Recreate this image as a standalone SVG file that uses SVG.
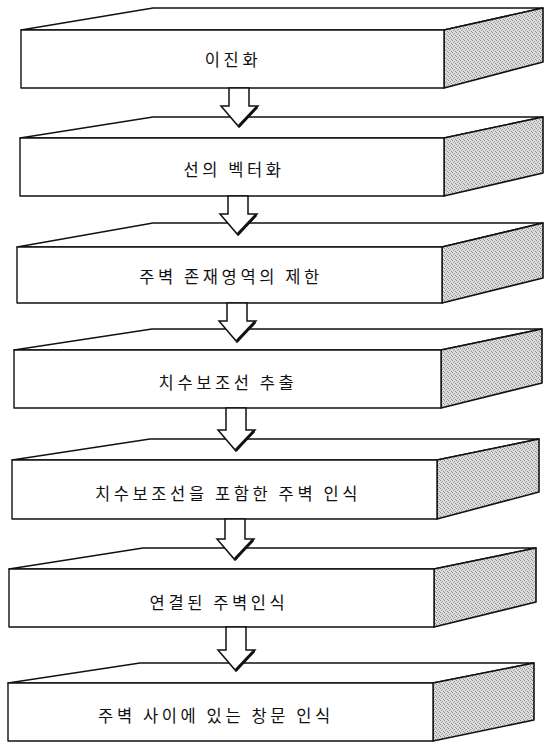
<svg xmlns="http://www.w3.org/2000/svg" width="544" height="743" viewBox="0 0 544 743">
<style>
.face{fill:#fff;stroke:#111;stroke-width:1.4;stroke-linejoin:round}
.side{fill:url(#dots);stroke:#111;stroke-width:1.6;stroke-linejoin:round}
.lbl{font-family:"Noto Sans CJK KR","Noto Sans",sans-serif;font-size:16.5px;fill:#111;text-anchor:middle;dominant-baseline:central;letter-spacing:3.6px}
.arr{fill:#fff;stroke:#111;stroke-width:1.5;stroke-linejoin:miter}
.arrs{fill:none;stroke:#111;stroke-width:3}
</style>
<defs>
<pattern id="dots" width="4" height="4" patternUnits="userSpaceOnUse">
<rect width="4" height="4" fill="#dcdcdc"/>
<rect x="0" y="0" width="1" height="1" fill="#8a8a8a"/>
<rect x="2" y="1" width="1" height="1" fill="#9a9a9a"/>
<rect x="1" y="2" width="1" height="1" fill="#a0a0a0"/>
<rect x="3" y="3" width="1" height="1" fill="#8f8f8f"/>
</pattern>
</defs>
<g id="node1">
<polygon class="face" points="21,30 153,8 543,8 444,30"/>
<polygon class="side" points="444,30 543,8 543,62 444,88"/>
<rect class="face" x="21" y="30" width="423" height="58"/>
<text class="lbl" x="233" y="59">이진화</text>
</g>
<g id="node2">
<polygon class="face" points="20,138 153,117 543,117 444,138"/>
<polygon class="side" points="444,138 543,117 543,173 444,196"/>
<rect class="face" x="20" y="138" width="424" height="58"/>
<text class="lbl" x="234" y="169">선의 벡터화</text>
</g>
<g id="node3">
<polygon class="face" points="17,247 153,223 543,223 442,247"/>
<polygon class="side" points="442,247 543,223 543,278 442,303"/>
<rect class="face" x="17" y="247" width="425" height="56"/>
<text class="lbl" x="231" y="276">주벽 존재영역의 제한</text>
</g>
<g id="node4">
<polygon class="face" points="14,350 152,329 542,329 441,350"/>
<polygon class="side" points="441,350 542,329 542,383 441,408"/>
<rect class="face" x="14" y="350" width="427" height="58"/>
<text class="lbl" x="228" y="382">치수보조선 추출</text>
</g>
<g id="node5">
<polygon class="face" points="12,460 150,439 539,439 437,460"/>
<polygon class="side" points="437,460 539,439 539,492 437,519"/>
<rect class="face" x="12" y="460" width="425" height="59"/>
<text class="lbl" x="228" y="493">치수보조선을 포함한 주벽 인식</text>
</g>
<g id="node6">
<polygon class="face" points="9,569 143,548 536,548 434,569"/>
<polygon class="side" points="434,569 536,548 536,602 434,627"/>
<rect class="face" x="9" y="569" width="425" height="58"/>
<text class="lbl" x="219" y="602">연결된 주벽인식</text>
</g>
<g id="node7">
<polygon class="face" points="8,683 140,663 534,663 433,683"/>
<polygon class="side" points="433,683 534,663 534,720 433,741"/>
<rect class="face" x="8" y="683" width="425" height="58"/>
<text class="lbl" x="216" y="715">주벽 사이에 있는 창문 인식</text>
</g>
<g id="connectors">
<polygon class="arr" points="229,88 229,106 221,106 239,127 258,106 249,106 249,88"/>
<line class="arrs" x1="239" y1="126" x2="257" y2="107"/>
<polygon class="arr" points="228,196 228,214 220,214 238,235 257,214 248,214 248,196"/>
<line class="arrs" x1="238" y1="234" x2="256" y2="215"/>
<polygon class="arr" points="227,303 227,321 219,321 237,342 256,321 247,321 247,303"/>
<line class="arrs" x1="237" y1="341" x2="255" y2="322"/>
<polygon class="arr" points="226,408 226,430 218,430 236,451 255,430 246,430 246,408"/>
<line class="arrs" x1="236" y1="450" x2="254" y2="431"/>
<polygon class="arr" points="225,519 225,539 217,539 235,560 254,539 245,539 245,519"/>
<line class="arrs" x1="235" y1="559" x2="253" y2="540"/>
<polygon class="arr" points="226,627 226,650 218,650 236,671 255,650 246,650 246,627"/>
<line class="arrs" x1="236" y1="670" x2="254" y2="651"/>
</g>
</svg>
